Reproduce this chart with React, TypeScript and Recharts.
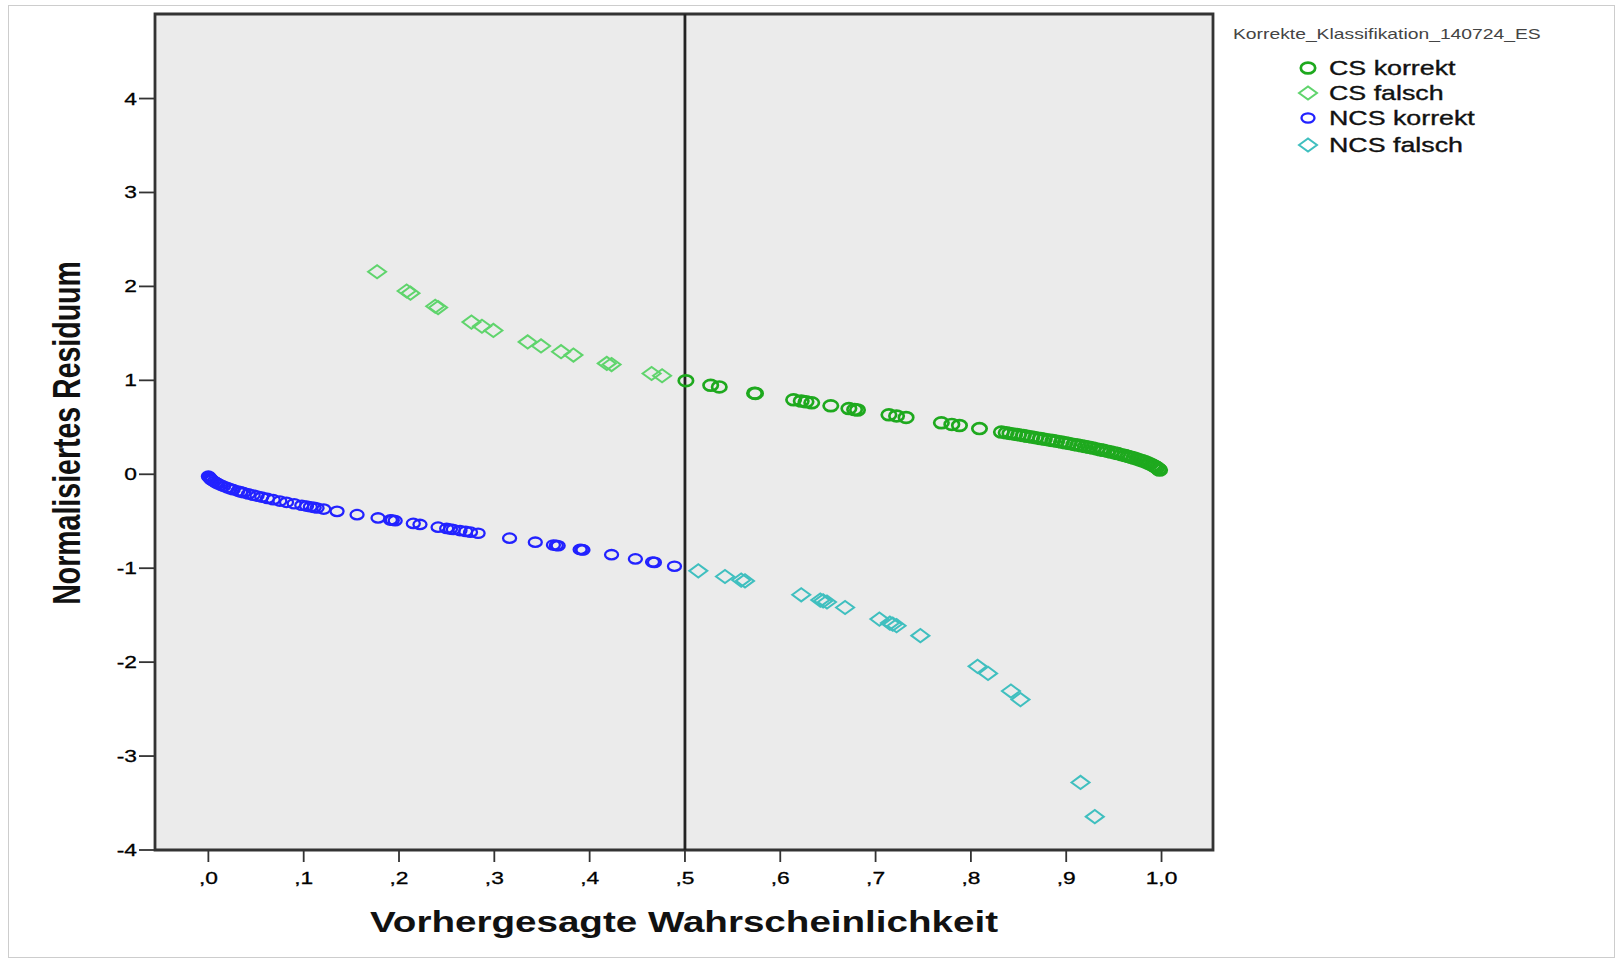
import React from 'react';
import {
  ScatterChart, Scatter, XAxis, YAxis, ReferenceLine, ReferenceArea, Legend,
} from 'recharts';

// values
const csKorrektP = [
  0.501, 0.527, 0.536, 0.573, 0.574, 0.614, 0.622, 0.627, 0.633, 0.653, 0.672, 0.678, 0.681,
  0.714, 0.722, 0.732, 0.769, 0.780, 0.788, 0.809, 0.832, 0.837, 0.841, 0.846, 0.850, 0.855,
  0.859, 0.864, 0.868, 0.873, 0.877, 0.882, 0.886, 0.890, 0.895, 0.899, 0.903, 0.908, 0.912,
  0.916, 0.920, 0.924, 0.928, 0.932, 0.936, 0.939, 0.943, 0.947, 0.951, 0.954, 0.958, 0.962,
  0.965, 0.968, 0.971, 0.974, 0.977, 0.980, 0.983, 0.986, 0.988, 0.991, 0.993, 0.995, 0.997, 0.998,
];
const csKorrektRes = [
  0.996, 0.947, 0.930, 0.863, 0.861, 0.793, 0.780, 0.771, 0.761, 0.729, 0.699, 0.689, 0.684,
  0.633, 0.621, 0.605, 0.548, 0.531, 0.519, 0.486, 0.449, 0.441, 0.435, 0.427, 0.420, 0.412,
  0.405, 0.397, 0.390, 0.381, 0.374, 0.366, 0.359, 0.352, 0.343, 0.335, 0.328, 0.318, 0.311,
  0.303, 0.295, 0.287, 0.279, 0.270, 0.261, 0.255, 0.246, 0.237, 0.227, 0.220, 0.209, 0.199,
  0.190, 0.182, 0.173, 0.163, 0.153, 0.143, 0.132, 0.119, 0.110, 0.095, 0.084, 0.071, 0.055, 0.045,
];

const csFalschP = [
  0.177, 0.208, 0.212, 0.238, 0.241, 0.276, 0.287, 0.299, 0.335, 0.349, 0.370, 0.383, 0.418,
  0.423, 0.465, 0.476,
];
const csFalschRes = [
  2.156, 1.951, 1.928, 1.789, 1.775, 1.620, 1.576, 1.531, 1.409, 1.366, 1.305, 1.269, 1.180,
  1.168, 1.073, 1.049,
];

const ncsKorrektP = [
  0.000, 0.001, 0.002, 0.003, 0.004, 0.006, 0.008, 0.010, 0.013, 0.016, 0.020, 0.023, 0.026,
  0.031, 0.034, 0.037, 0.042, 0.047, 0.051, 0.056, 0.062, 0.068, 0.075, 0.082, 0.090, 0.098,
  0.103, 0.107, 0.111, 0.114, 0.121, 0.135, 0.156, 0.178, 0.191, 0.193, 0.196, 0.215, 0.222,
  0.241, 0.250, 0.254, 0.257, 0.264, 0.270, 0.275, 0.283, 0.316, 0.343, 0.362, 0.365, 0.367,
  0.390, 0.392, 0.393, 0.423, 0.448, 0.466, 0.468, 0.489,
];
const ncsKorrektRes = [
  -0.020, -0.032, -0.045, -0.055, -0.063, -0.078, -0.090, -0.100, -0.115, -0.128, -0.143, -0.154, -0.164,
  -0.179, -0.188, -0.196, -0.209, -0.222, -0.232, -0.243, -0.257, -0.270, -0.285, -0.299, -0.314, -0.330,
  -0.339, -0.346, -0.353, -0.359, -0.371, -0.395, -0.430, -0.465, -0.486, -0.489, -0.494, -0.523, -0.534,
  -0.563, -0.577, -0.583, -0.588, -0.599, -0.608, -0.616, -0.628, -0.680, -0.723, -0.753, -0.758, -0.761,
  -0.800, -0.803, -0.805, -0.856, -0.901, -0.934, -0.938, -0.979,
];

const ncsFalschP = [
  0.514, 0.542, 0.559, 0.563, 0.622, 0.642, 0.645, 0.649, 0.668, 0.704, 0.715, 0.718, 0.722,
  0.747, 0.807, 0.818, 0.842, 0.852, 0.915, 0.930,
];
const ncsFalschRes = [
  -1.028, -1.088, -1.126, -1.135, -1.283, -1.339, -1.348, -1.360, -1.418, -1.542, -1.584, -1.596, -1.612,
  -1.718, -2.045, -2.120, -2.308, -2.399, -3.281, -3.645,
];

const xTicks = [0, 0.1, 0.2, 0.3, 0.4, 0.5, 0.6, 0.7, 0.8, 0.9, 1.0];
const xTickLabels = [',0', ',1', ',2', ',3', ',4', ',5', ',6', ',7', ',8', ',9', '1,0'];
const yTicks = [-4, -3, -2, -1, 0, 1, 2, 3, 4];

const legendTitle = 'Korrekte_Klassifikation_140724_ES';
const seriesNames = ['CS korrekt', 'CS falsch', 'NCS korrekt', 'NCS falsch'];
const COLORS = ['#1ea91e', '#5fd46c', '#2222ff', '#3fbfbf'];

const toPoints = (p: number[], r: number[]) => p.map((x, i) => ({ x, y: r[i] }));

const FONT = "'Liberation Sans', Arial, sans-serif";
const SX = 1.34; // the reference picture is stretched horizontally

const ellipseShape = (color: string, rx: number, ry: number, sw: number) => (props: any) => {
  if (props.cx == null) return <g />;
  return <ellipse cx={props.cx} cy={props.cy} rx={rx} ry={ry} fill="none" stroke={color} strokeWidth={sw} />;
};

const diamondShape = (color: string, hw: number, hh: number, sw: number) => (props: any) => {
  if (props.cx == null) return <g />;
  const { cx, cy } = props;
  return (
    <path
      d={`M${cx - hw},${cy}L${cx},${cy - hh}L${cx + hw},${cy}L${cx},${cy + hh}Z`}
      fill="none"
      stroke={color}
      strokeWidth={sw}
    />
  );
};

const shapes = [
  ellipseShape(COLORS[0], 7.2, 5.4, 2.7),
  diamondShape(COLORS[1], 9, 6.6, 2),
  ellipseShape(COLORS[2], 6.5, 4.7, 2.3),
  diamondShape(COLORS[3], 9, 6.6, 2),
];

const XTick = ({ x, y, payload }: any) => {
  const idx = xTicks.indexOf(payload.value);
  return (
    <text
      transform={`translate(${x} ${y + 20}) scale(${SX} 1)`}
      textAnchor="middle"
      fontFamily={FONT}
      fontSize={17}
      fill="#000"
      stroke="#000"
      strokeWidth={0.3}
    >
      {xTickLabels[idx]}
    </text>
  );
};

const YTick = ({ x, y, payload }: any) => (
  <text
    transform={`translate(${x} ${y + 6}) scale(${SX} 1)`}
    textAnchor="end"
    fontFamily={FONT}
    fontSize={17}
    fill="#000"
    stroke="#000"
    strokeWidth={0.3}
  >
    {payload.value}
  </text>
);

const renderLegend = () => (
  <svg width={400} height={160}>
    <text
      transform={`translate(24 33) scale(${SX} 1)`}
      fontFamily={FONT}
      fontSize={14.4}
      fill="#444"
    >
      {legendTitle}
    </text>
    {seriesNames.map((name, i) => {
      const cy = [62, 87, 112, 139][i];
      return (
        <g key={name}>
          {shapes[i]({ cx: 99, cy })}
          <text
            transform={`translate(120 ${cy + 7}) scale(${SX} 1)`}
            fontFamily={FONT}
            fontSize={20}
            fill="#111"
            stroke="#111"
            strokeWidth={0.35}
          >
            {name}
          </text>
        </g>
      );
    })}
  </svg>
);

const XTitle = ({ viewBox }: any) => (
  <text
    transform={`translate(${viewBox.x + viewBox.width / 2} 926) scale(${SX} 1)`}
    textAnchor="middle"
    fontFamily={FONT}
    fontWeight="bold"
    fontSize={28.8}
    fill="#111"
  >
    Vorhergesagte Wahrscheinlichkeit
  </text>
);

const YTitle = ({ viewBox }: any) => (
  <text
    transform={`translate(71 ${viewBox.y + viewBox.height / 2 + 1}) scale(${SX} 1) rotate(-90)`}
    textAnchor="middle"
    fontFamily={FONT}
    fontWeight="bold"
    fontSize={28.5}
    fill="#111"
  >
    Normalisiertes Residuum
  </text>
);

export default function App() {
  const series = [
    toPoints(csKorrektP, csKorrektRes),
    toPoints(csFalschP, csFalschRes),
    toPoints(ncsKorrektP, ncsKorrektRes),
    toPoints(ncsFalschP, ncsFalschRes),
  ];
  return (
    <div
      style={{
        position: 'absolute', left: 8, top: 5, width: 1607, height: 953,
        border: '1px solid #cdcdcd', boxSizing: 'border-box', background: '#fff',
      }}
    >
      <ScatterChart width={1605} height={951} margin={{ top: 8, right: 401, left: 0, bottom: 0 }}>
        <XAxis
          type="number"
          dataKey="x"
          domain={[-0.056, 1.054]}
          ticks={xTicks}
          allowDataOverflow
          axisLine={false}
          tickSize={12}
          tickLine={{ stroke: '#333', strokeWidth: 1.8 }}
          tick={<XTick />}
          height={107}
          label={<XTitle />}
        />
        <YAxis
          type="number"
          dataKey="y"
          domain={[-4, 4.9]}
          ticks={yTicks}
          allowDataOverflow
          axisLine={false}
          tickSize={16}
          tickLine={{ stroke: '#333', strokeWidth: 1.8 }}
          tick={<YTick />}
          width={146}
          label={<YTitle />}
        />
        <ReferenceArea
          x1={-0.056}
          x2={1.054}
          y1={-4}
          y2={4.9}
          fill="#ebebeb"
          fillOpacity={1}
          stroke="#333"
          strokeWidth={2.8}
        />
        {series.map((data, i) => (
          <Scatter
            key={seriesNames[i]}
            name={seriesNames[i]}
            data={data}
            shape={shapes[i]}
            isAnimationActive={false}
          />
        ))}
        <ReferenceLine x={0.5} stroke="#222" strokeWidth={2.8} />
        <Legend
          layout="horizontal"
          verticalAlign="middle"
          align="center"
          width={400}
          height={160}
          wrapperStyle={{ left: 1200, top: 0 }}
          content={renderLegend}
        />
      </ScatterChart>
    </div>
  );
}
